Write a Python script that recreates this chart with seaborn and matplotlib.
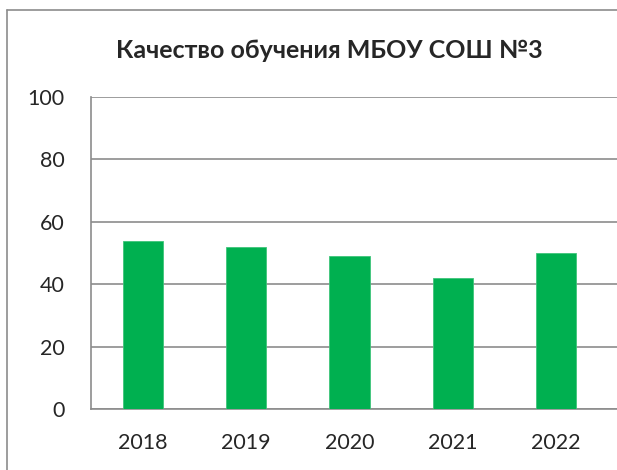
import matplotlib
matplotlib.use("Agg")
import matplotlib.pyplot as plt
import seaborn as sns
import pandas as pd
from matplotlib.lines import Line2D

years = ["2018", "2019", "2020", "2021", "2022"]
quality = [54, 52, 49, 42, 50]
title = "Качество обучения МБОУ СОШ №3"

sns.set_style("white")
plt.rcParams['font.family'] = ['Lato', 'DejaVu Sans']

df = pd.DataFrame({"Year": years, "Quality": quality})

fig = plt.figure(figsize=(6.17, 4.70), dpi=100)
ax = fig.add_axes([91 / 617, 1 - 409 / 470, 1 - 91 / 617, (409 - 97) / 470])

sns.barplot(x="Year", y="Quality", data=df, ax=ax, color="#00B050",
            width=0.39, saturation=1, edgecolor="#3fc47a", linewidth=0.6, zorder=3)

ax.set_ylim(0, 100)
ax.set_yticks([0, 20, 40, 60, 80, 100])
ax.set_xlim(-0.5, 4.59)
ax.set_xlabel("")
ax.set_ylabel("")
ax.grid(axis="y", color="#8c8c8c", linewidth=1.2, zorder=0)
ax.grid(axis="x", visible=False)

for s in ["top", "right"]:
    ax.spines[s].set_visible(False)
ax.spines["left"].set_color("#8c8c8c")
ax.spines["bottom"].set_color("#8c8c8c")
ax.spines["left"].set_linewidth(1.2)
ax.spines["bottom"].set_linewidth(1.2)

# category-boundary ticks on x
ax.set_xticks([i - 0.5 for i in range(5)], minor=True)
ax.tick_params(axis="x", which="minor", length=7, width=1.2, color="#8c8c8c", direction="out")
ax.tick_params(axis="x", which="major", length=0, labelsize=15.5, pad=17)
ax.tick_params(axis="y", length=7, width=1.2, color="#8c8c8c", direction="out", labelsize=15.5, pad=12)

fig.text(329 / 617, 1 - 50 / 470, title, ha="center", va="center",
         fontsize=18, fontweight="bold")

# outer chart frame
fig.add_artist(Line2D([7 / 617, 7 / 617], [0, 1 - 10 / 470], transform=fig.transFigure,
                      color="#8c8c8c", linewidth=1.2))
fig.add_artist(Line2D([7 / 617, 1], [1 - 10 / 470, 1 - 10 / 470], transform=fig.transFigure,
                      color="#8c8c8c", linewidth=1.2))

fig.savefig("out.png", dpi=100)
